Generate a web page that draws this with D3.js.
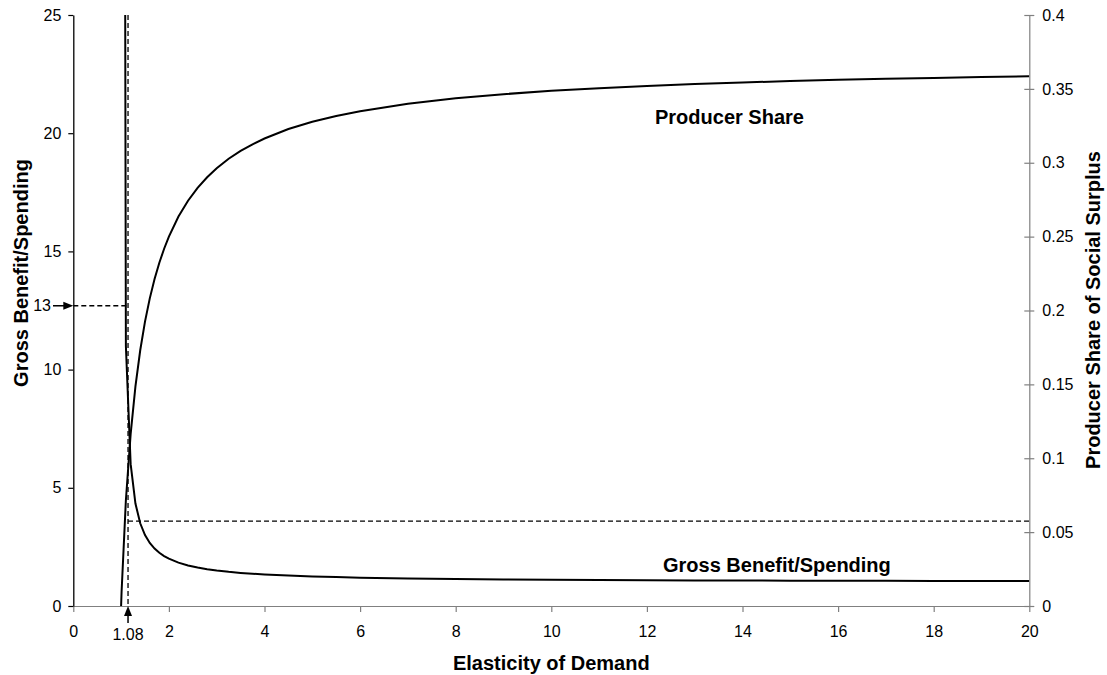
<!DOCTYPE html>
<html>
<head>
<meta charset="utf-8">
<script src="https://cdn.jsdelivr.net/npm/d3@7/dist/d3.min.js"></script>
<style>
  html, body { margin: 0; padding: 0; background: #fff; }
  svg { display: block; font-family: "Liberation Sans", Arial, sans-serif; }
</style>
</head>
<body>
<svg id="chart" width="1107" height="675"></svg>
<script>
// ---- Data ----
const elasticity = [1, 1.01, 1.1, 1.2, 1.3, 1.4, 1.5, 1.6, 1.7, 1.8, 1.9, 2, 2.2, 2.4, 2.6, 2.8, 3, 3.25, 3.5, 3.75, 4, 4.5, 5, 5.5, 6, 7, 8, 9, 10, 11, 12, 13, 14, 15, 16, 17, 18, 19, 20];
const grossBenefitSpending = [null, 101, 11, 6, 4.333, 3.5, 3, 2.667, 2.429, 2.25, 2.111, 2, 1.833, 1.714, 1.625, 1.556, 1.5, 1.444, 1.4, 1.364, 1.333, 1.286, 1.25, 1.222, 1.2, 1.167, 1.143, 1.125, 1.111, 1.1, 1.091, 1.083, 1.077, 1.071, 1.067, 1.063, 1.059, 1.056, 1.053];
const producerShare = [0, 0.0095, 0.0716, 0.1165, 0.1487, 0.1731, 0.1925, 0.2082, 0.2213, 0.2323, 0.2418, 0.25, 0.2636, 0.2743, 0.2830, 0.2902, 0.2963, 0.3027, 0.3080, 0.3125, 0.3164, 0.3228, 0.3277, 0.3317, 0.3349, 0.3399, 0.3436, 0.3464, 0.3487, 0.3505, 0.3520, 0.3533, 0.3543, 0.3553, 0.3561, 0.3568, 0.3574, 0.3580, 0.3585];

const xTicks = [0, 2, 4, 6, 8, 10, 12, 14, 16, 18, 20];
const leftTicks = [0, 5, 10, 15, 20, 25];
const rightTicks = [0, 0.05, 0.1, 0.15, 0.2, 0.25, 0.3, 0.35, 0.4];

// annotation values
const markerElasticity = 1.145;   // drawn position of the 1.08 marker
const markerElasticityLabel = "1.08";
const markerGB = 12.7;            // drawn position of the 13 marker
const markerGBLabel = "13";
const markerShare = 0.0575;

// ---- Layout ----
const svg = d3.select("#chart");
const pLeft = 73.3, pRight = 1029.3, pTop = 15, pBottom = 606;

const x = d3.scaleLinear().domain([0, 20]).range([pLeft, pRight]);
const yL = d3.scaleLinear().domain([0, 25]).range([pBottom, pTop]);
const yR = d3.scaleLinear().domain([0, 0.4]).range([pBottom, pTop]);

svg.append("defs").append("clipPath").attr("id", "plotclip")
  .append("rect").attr("x", pLeft).attr("y", pTop).attr("width", pRight - pLeft).attr("height", pBottom - pTop);

// ---- Axes ----
const tickFont = "16px";
const fam = "Liberation Sans, Arial, sans-serif";

// X axis
const gx = svg.append("g").attr("transform", `translate(0,${pBottom})`)
  .call(d3.axisBottom(x).tickValues(xTicks).tickSize(6).tickSizeOuter(0).tickPadding(6).tickFormat(d3.format("d")));
gx.select(".domain").attr("stroke", "#808080").attr("stroke-width", 1.2);
gx.selectAll(".tick line").attr("stroke", "#808080").attr("stroke-width", 1.2);
gx.selectAll(".tick text").attr("font-size", tickFont).attr("fill", "#000").attr("font-family", fam).attr("dy", "1.2em");

// Left axis
const gl = svg.append("g").attr("transform", `translate(${pLeft},0)`)
  .call(d3.axisLeft(yL).tickValues(leftTicks).tickSize(5).tickSizeOuter(0).tickPadding(7));
gl.select(".domain").attr("stroke", "#000").attr("stroke-width", 1.3);
gl.selectAll(".tick line").attr("stroke", "#000").attr("stroke-width", 1.2);
gl.selectAll(".tick text").attr("font-size", tickFont).attr("fill", "#000").attr("font-family", fam);

// Right axis
const gr = svg.append("g").attr("transform", `translate(${pRight},0)`)
  .call(d3.axisRight(yR).tickValues(rightTicks).tickSize(5).tickSizeOuter(0).tickPadding(8).tickFormat(d => d3.format("~g")(d)));
gr.select(".domain").attr("stroke", "#808080").attr("stroke-width", 1.2);
gr.selectAll(".tick line").attr("stroke", "#808080").attr("stroke-width", 1.2).attr("x1", -5);
gr.selectAll(".tick text").attr("font-size", tickFont).attr("fill", "#000").attr("font-family", fam);

// ---- Curves ----
const plot = svg.append("g").attr("clip-path", "url(#plotclip)");
const gbData = elasticity.map((e, i) => [e, grossBenefitSpending[i]]);
const psData = elasticity.map((e, i) => [e, producerShare[i]]);

plot.append("path")
  .datum(gbData)
  .attr("fill", "none").attr("stroke", "#000").attr("stroke-width", 2)
  .attr("d", d3.line().defined(d => d[1] != null).x(d => x(d[0])).y(d => yL(d[1])));

plot.append("path")
  .datum(psData)
  .attr("fill", "none").attr("stroke", "#000").attr("stroke-width", 2)
  .attr("d", d3.line().x(d => x(d[0])).y(d => yR(d[1])));

// ---- Dashed guides ----
const dash = "5,3";
svg.append("line")
  .attr("x1", x(markerElasticity)).attr("x2", x(markerElasticity))
  .attr("y1", pTop).attr("y2", pBottom)
  .attr("stroke", "#000").attr("stroke-width", 1.3).attr("stroke-dasharray", dash);
svg.append("line")
  .attr("x1", pLeft).attr("x2", x(markerElasticity))
  .attr("y1", yL(markerGB)).attr("y2", yL(markerGB))
  .attr("stroke", "#000").attr("stroke-width", 1.3).attr("stroke-dasharray", dash);
svg.append("line")
  .attr("x1", x(markerElasticity)).attr("x2", pRight)
  .attr("y1", yR(markerShare)).attr("y2", yR(markerShare))
  .attr("stroke", "#000").attr("stroke-width", 1.3).attr("stroke-dasharray", dash);

// ---- Arrows ----
const ay = yL(markerGB);
svg.append("line").attr("x1", 53).attr("x2", pLeft - 8).attr("y1", ay).attr("y2", ay)
  .attr("stroke", "#000").attr("stroke-width", 1.5);
svg.append("path").attr("d", `M${pLeft},${ay} L${pLeft - 10},${ay - 4} L${pLeft - 10},${ay + 4} Z`).attr("fill", "#000");
svg.append("text").attr("x", 51).attr("y", ay).attr("dy", "0.35em").attr("font-family", fam)
  .attr("text-anchor", "end").attr("font-size", tickFont).text(markerGBLabel);

const ax = x(markerElasticity);
svg.append("line").attr("x1", ax).attr("x2", ax).attr("y1", pBottom + 8).attr("y2", pBottom + 17)
  .attr("stroke", "#000").attr("stroke-width", 1.5);
svg.append("path").attr("d", `M${ax},${pBottom} L${ax - 4},${pBottom + 10} L${ax + 4},${pBottom + 10} Z`).attr("fill", "#000");
svg.append("text").attr("x", ax).attr("y", 640).attr("font-family", fam)
  .attr("text-anchor", "middle").attr("font-size", tickFont).text(markerElasticityLabel);

// ---- Labels ----
const boldFont = "20px";
svg.append("text").attr("x", 655).attr("y", 124).attr("font-size", boldFont).attr("font-weight", "bold").text("Producer Share");
svg.append("text").attr("x", 663).attr("y", 572).attr("font-size", boldFont).attr("font-weight", "bold").text("Gross Benefit/Spending");

svg.append("text").attr("x", (pLeft + pRight) / 2).attr("y", 670)
  .attr("text-anchor", "middle").attr("font-size", boldFont).attr("font-weight", "bold").text("Elasticity of Demand");
svg.append("text").attr("transform", "translate(28,273) rotate(-90)")
  .attr("text-anchor", "middle").attr("font-size", boldFont).attr("font-weight", "bold").text("Gross Benefit/Spending");
svg.append("text").attr("transform", "translate(1100,310) rotate(-90)")
  .attr("text-anchor", "middle").attr("font-size", boldFont).attr("font-weight", "bold").text("Producer Share of Social Surplus");
</script>
</body>
</html>
